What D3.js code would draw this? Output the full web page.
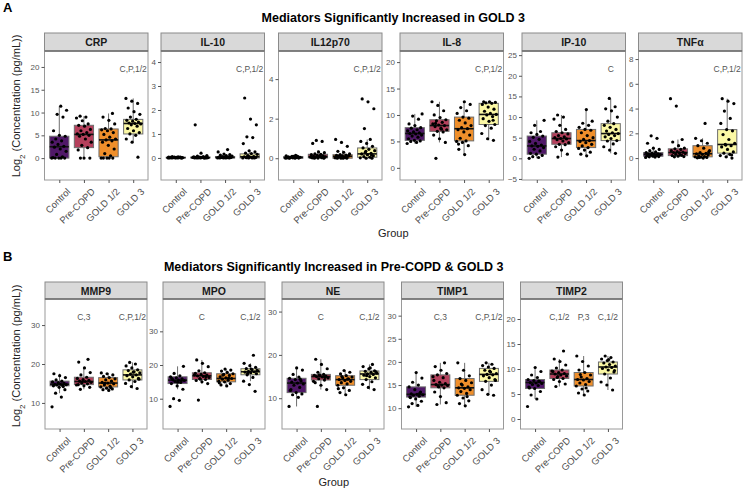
<!DOCTYPE html>
<html>
<head>
<meta charset="utf-8">
<script src="https://cdn.jsdelivr.net/npm/d3@7"></script>
<style>
  body { margin: 0; background: #fff; }
  text { font-family: "Liberation Sans", Arial, sans-serif; }
</style>
</head>
<body>
<svg width="748" height="492"></svg>
<script>
var groups = ["Control", "Pre-COPD", "GOLD 1/2", "GOLD 3"];
var groupColors = ["#501868", "#B5405C", "#EF8F2B", "#FBF8A5"];

var topNames = ["CRP", "IL-10", "IL12p70", "IL-8", "IP-10", "TNFα"];
var bottomNames = ["MMP9", "MPO", "NE", "TIMP1", "TIMP2"];

// box stats per group: [lower whisker, q1, median, q3, upper whisker]
var crpBox = [[0, 0, 2.5, 4.8, 11.4], [0, 2.3, 5.2, 7.2, 9.2], [0, 0.3, 4.0, 6.4, 9.8], [3.5, 5.3, 7.6, 8.5, 13.1]];
var il10Box = [[0, 0, 0.01, 0.03, 0.06], [0, 0, 0.01, 0.04, 0.08], [0, 0, 0.02, 0.06, 0.14], [0, 0, 0.05, 0.17, 0.35]];
var il12Box = [[0, 0, 0.04, 0.08, 0.15], [0, 0.02, 0.08, 0.2, 0.4], [0, 0, 0.1, 0.18, 0.4], [0, 0.05, 0.22, 0.52, 0.95]];
var il8Box = [[4.6, 5.2, 6.5, 7.6, 10.2], [4.8, 6.9, 8.0, 9.1, 12.5], [2.5, 5.1, 7.4, 9.6, 12.5], [5.2, 8.2, 10.1, 12.2, 12.5]];
var ip10Box = [[0, 1.0, 3.0, 5.4, 9.2], [0.3, 3.4, 4.8, 6.2, 10.5], [0.6, 2.6, 4.3, 7.0, 11.8], [1.2, 4.3, 6.0, 8.4, 14.5]];
var tnfBox = [[0.05, 0.15, 0.3, 0.45, 0.8], [0.1, 0.2, 0.45, 0.75, 1.5], [0, 0.1, 0.35, 1.0, 1.6], [0, 0.4, 1.1, 2.3, 4.8]];
var mmp9Box = [[12.5, 14.4, 14.8, 15.6, 17.5], [13.5, 14.7, 15.5, 16.6, 19], [13.2, 14.1, 15.1, 16.5, 17.7], [13.7, 15.9, 17.2, 18.5, 20.4]];
var mpoBox = [[12.8, 14.5, 15.5, 16.5, 19.6], [14.5, 15.7, 16.8, 17.7, 21.5], [13.8, 15, 16, 17.4, 18.8], [15.2, 17.1, 18, 18.9, 20.5]];
var neBox = [[8.1, 11.3, 13.5, 14.6, 17], [12, 14.2, 15, 15.5, 19], [10.8, 13.0, 14.3, 15.2, 16.4], [12, 14.3, 15.6, 16.3, 17.8]];
var timp1Box = [[10.3, 12.4, 13, 14.6, 17.7], [10.8, 14.4, 15.1, 17.2, 19.8], [10.5, 12.8, 14.4, 16.4, 19.8], [12.8, 15.8, 17.3, 18.6, 19.8]];
var timp2Box = [[4, 6.1, 7.3, 7.9, 10.3], [6.5, 8.1, 9.0, 9.8, 12], [4.8, 6.6, 7.9, 9.3, 12.6], [5.8, 9.0, 10.4, 11.4, 12.6]];

// individual subjects (log2 pg/mL)
var crpPts = [
  [0, 0, 0, 0, 0, 0.1, 0.3, 0.8, 1.5, 2, 2.4, 2.6, 3, 3.5, 3.8, 4.2, 4.8, 5, 6, 9, 9.6, 10.5, 11.4],
  [0, 0, 0, 1.8, 2.3, 2.8, 3.5, 4.2, 4.8, 5, 5.2, 5.3, 5.6, 6, 6.3, 7, 7.2, 7.5, 8.2, 8.8, 9, 9.2],
  [0, 0, 0, 0, 0, 0.5, 1, 2, 2.8, 3.5, 3.8, 4, 4.2, 4.6, 5.2, 5.6, 6, 6.2, 6.4, 6.5, 7.5, 8.3, 9, 9.8],
  [0.2, 3.5, 4.2, 5, 5.3, 5.6, 6, 6.5, 7, 7.3, 7.5, 7.6, 7.7, 7.9, 8.1, 8.3, 8.5, 9, 9.6, 10.2, 11, 12, 12.5, 13.1]];
var il10Pts = [
  [0, 0, 0, 0, 0, 0, 0.01, 0.01, 0.01, 0.02, 0.02, 0.03, 0.03, 0.04, 0.05, 0.06, 0, 0.01, 0.02, 0.02],
  [0, 0, 0, 0, 0, 0.01, 0.01, 0.02, 0.02, 0.03, 0.04, 0.05, 0.06, 0.08, 0.1, 0.2, 1.38, 0, 0.01, 0.02],
  [0, 0, 0, 0, 0, 0.01, 0.02, 0.02, 0.03, 0.04, 0.05, 0.06, 0.08, 0.1, 0.12, 0.14, 0.16, 0.25, 0.35, 0.02, 0.03],
  [0, 0, 0, 0, 0.01, 0.02, 0.03, 0.05, 0.06, 0.1, 0.15, 0.18, 0.2, 0.25, 0.3, 0.6, 0.85, 0.88, 1.38, 1.62, 2.5, 0.04, 0.08]];
var il12Pts = [
  [0, 0, 0, 0.01, 0.02, 0.03, 0.04, 0.04, 0.05, 0.06, 0.07, 0.08, 0.1, 0.12, 0.15, 0.02, 0.05, 0.09, 0.03, 0.11],
  [0, 0, 0.01, 0.02, 0.03, 0.05, 0.07, 0.08, 0.1, 0.12, 0.15, 0.18, 0.2, 0.22, 0.28, 0.32, 0.75, 0.85, 0.9, 0.05, 0.1],
  [0, 0, 0, 0, 0.02, 0.05, 0.08, 0.1, 0.12, 0.14, 0.16, 0.18, 0.22, 0.3, 0.35, 0.6, 0.8, 0.95, 0.05, 0.1, 0.13],
  [0, 0, 0.02, 0.05, 0.08, 0.12, 0.18, 0.22, 0.25, 0.3, 0.38, 0.45, 0.52, 0.6, 0.75, 0.85, 0.95, 1.5, 2.5, 2.85, 3.0, 0.15, 0.35]];
var il8Pts = [
  [4.6, 4.8, 5, 5.1, 5.2, 5.5, 5.8, 6, 6.2, 6.4, 6.5, 6.6, 6.8, 7, 7.2, 7.5, 7.6, 8, 8.3, 9.2, 9.8, 10.2],
  [1.8, 4.8, 5.5, 6.2, 6.8, 6.9, 7.2, 7.5, 7.8, 8, 8.1, 8.3, 8.6, 8.9, 9.1, 9.5, 10, 10.8, 11.8, 12.5, 7.3, 8.4],
  [2.5, 3.5, 4.2, 4.8, 5, 5.1, 5.6, 6.2, 6.8, 7.2, 7.4, 7.6, 8, 8.5, 9, 9.4, 9.6, 10.3, 10.8, 11.4, 12, 12.5, 4.5],
  [5.2, 5.5, 6.5, 7.5, 8, 8.2, 8.8, 9.3, 9.7, 10, 10.1, 10.3, 10.7, 11.1, 11.5, 12, 12.2, 12.3, 12.4, 12.5, 12.5, 9]];
var ip10Pts = [
  [0, 0.2, 0.4, 0.7, 1, 1.2, 1.8, 2.2, 2.6, 2.9, 3, 3.2, 3.6, 4.1, 4.6, 5.1, 5.4, 5.8, 6.2, 6.5, 8, 9.2],
  [0.3, 1, 2, 2.8, 3.3, 3.4, 3.8, 4.2, 4.5, 4.7, 4.8, 5, 5.2, 5.5, 5.9, 6.2, 6.5, 7, 8, 9.5, 10, 10.5],
  [0.6, 1, 1.5, 2, 2.4, 2.6, 3, 3.4, 3.8, 4.1, 4.3, 4.6, 5, 5.5, 6.2, 6.8, 7, 7.5, 8, 8.5, 9, 11.8],
  [1.2, 2, 2.8, 3.5, 4.2, 4.3, 4.8, 5.2, 5.5, 5.8, 6, 6.2, 6.6, 7, 7.5, 8, 8.4, 9, 10, 11.5, 12, 12.5, 14.5]];
var tnfPts = [
  [0.05, 0.08, 0.1, 0.12, 0.15, 0.18, 0.2, 0.25, 0.28, 0.3, 0.32, 0.35, 0.4, 0.45, 0.5, 0.6, 0.7, 0.8, 1.2, 1.6, 1.8],
  [0.1, 0.12, 0.15, 0.2, 0.22, 0.3, 0.38, 0.42, 0.45, 0.48, 0.52, 0.6, 0.7, 0.75, 0.8, 1, 1.3, 1.5, 4.2, 4.8, 0.25],
  [0, 0.02, 0.05, 0.08, 0.1, 0.12, 0.18, 0.25, 0.3, 0.35, 0.38, 0.45, 0.6, 0.8, 1, 1.2, 1.4, 1.6, 2.8, 0.05, 0.5],
  [0, 0.1, 0.2, 0.3, 0.4, 0.5, 0.7, 0.9, 1, 1.1, 1.2, 1.5, 1.9, 2.2, 2.3, 2.8, 3.2, 3.8, 4.4, 4.6, 4.8, 0.25, 1.05]];
var mmp9Pts = [
  [9, 11.5, 12.5, 13.4, 14, 14.4, 14.5, 14.6, 14.7, 14.8, 14.8, 15, 15.2, 15.4, 15.6, 15.9, 16.5, 17, 17.5, 14.2],
  [13.5, 14, 14.4, 14.7, 14.9, 15.1, 15.3, 15.5, 15.6, 15.8, 16, 16.3, 16.6, 17.2, 17.8, 19, 20.5, 21.2, 15.4, 14.6],
  [13.2, 13.4, 13.6, 13.8, 14.1, 14.3, 14.6, 14.9, 15.1, 15.3, 15.6, 15.9, 16.2, 16.5, 16.8, 17.2, 17.5, 17.7, 13.9, 15],
  [13.7, 14.2, 15, 15.5, 15.9, 16.3, 16.7, 17, 17.2, 17.4, 17.7, 18, 18.3, 18.5, 19, 19.5, 20, 20.4, 16.1, 17.9]];
var mpoPts = [
  [7.7, 9.5, 10, 12.8, 13.8, 14.5, 14.8, 15.1, 15.4, 15.5, 15.6, 15.9, 16.2, 16.5, 16.8, 17.5, 19.6, 14.9, 16, 15.3],
  [9.6, 14.5, 15, 15.4, 15.7, 16, 16.3, 16.6, 16.8, 17, 17.2, 17.5, 17.7, 18.3, 19.5, 20.5, 21.5, 16.5, 15.8, 17.1],
  [13.8, 14.1, 14.5, 15, 15.2, 15.5, 15.8, 16, 16.2, 16.5, 16.9, 17.2, 17.4, 17.8, 18.2, 18.5, 18.8, 14.7, 16.1, 17],
  [12.2, 14.2, 15.2, 16.3, 17.1, 17.4, 17.7, 17.9, 18, 18.1, 18.3, 18.6, 18.9, 19.3, 19.8, 20.5, 22.9, 17.5, 18.4, 18.8]];
var nePts = [
  [8.1, 10.2, 10.8, 11, 11.3, 11.8, 12.5, 13, 13.3, 13.5, 13.7, 14, 14.3, 14.6, 14.9, 15.5, 16.5, 17, 12, 14.4],
  [8.1, 12, 13, 13.6, 14.2, 14.5, 14.7, 14.9, 15, 15.1, 15.2, 15.3, 15.5, 16, 16.8, 17.8, 19, 14.8, 15.4, 13.9],
  [10.8, 11.3, 11.8, 12.4, 13, 13.3, 13.6, 13.9, 14.1, 14.3, 14.5, 14.7, 14.9, 15.2, 15.6, 16, 16.4, 12.2, 14.4, 15],
  [12, 12.5, 13.2, 13.8, 14.3, 14.7, 15, 15.3, 15.5, 15.6, 15.8, 16, 16.2, 16.3, 16.8, 17.3, 17.8, 15.2, 16.1, 17]];
var timp1Pts = [
  [10.3, 10.6, 11, 11.5, 12, 12.4, 12.6, 12.8, 12.9, 13, 13.1, 13.5, 14, 14.6, 15, 15.6, 16.5, 17.7, 12.3, 13.2],
  [10.8, 11.2, 12.5, 13.5, 14.4, 14.7, 14.9, 15, 15.1, 15.3, 15.6, 16, 16.6, 17.2, 17.5, 18.2, 19, 19.8, 14.6, 16.8],
  [10.5, 11, 11.6, 12.2, 12.8, 13.2, 13.6, 14, 14.3, 14.4, 14.6, 15, 15.5, 16, 16.4, 17, 18.2, 19.8, 12.5, 15.2],
  [12.8, 13, 14, 15, 15.8, 16.2, 16.6, 17, 17.2, 17.3, 17.5, 17.8, 18.2, 18.6, 18.9, 19.2, 19.5, 19.8, 16, 18]];
var timp2Pts = [
  [2.5, 4, 4.8, 5.5, 6.1, 6.4, 6.7, 6.9, 7.1, 7.2, 7.3, 7.5, 7.7, 7.9, 8.3, 8.8, 9.5, 10.3, 6.2, 7.6],
  [6.5, 7, 7.5, 7.9, 8.1, 8.3, 8.6, 8.8, 9, 9.1, 9.3, 9.5, 9.8, 10.2, 10.8, 11.5, 12, 13.6, 8.5, 9.6],
  [4.8, 5.2, 5.6, 6, 6.6, 6.9, 7.2, 7.5, 7.8, 7.9, 8.1, 8.4, 8.8, 9.3, 9.8, 10.6, 11.5, 12.6, 6.2, 8.9],
  [5.8, 6.8, 7.4, 8.2, 9, 9.4, 9.8, 10.1, 10.3, 10.4, 10.6, 10.9, 11.2, 11.4, 11.7, 12, 12.3, 12.6, 9.7, 11.9]];

// significance letters above each group
var topAnn = [
  ["", "", "", "C,P,1/2"], ["", "", "", "C,P,1/2"], ["", "", "", "C,P,1/2"],
  ["", "", "", "C,P,1/2"], ["", "", "", "C"], ["", "", "", "C,P,1/2"]];
var bottomAnn = [
  ["", "C,3", "", "C,P,1/2"], ["", "C", "", "C,1/2"], ["", "C", "", "C,1/2"],
  ["", "C,3", "", "C,P,1/2"], ["", "C,1/2", "P,3", "C,1/2"]];

// y ranges and tick labels per facet (free y scales)
var topDomains = [[-4.8, 23.5], [-0.92, 4.46], [-1.1, 5.42], [-2.3, 22.1], [-5.25, 26], [-1.77, 8.65]];
var topTicks = [[0, 5, 10, 15, 20], [0, 1, 2, 3, 4], [0, 2, 4], [0, 5, 10, 15, 20], [-5, 0, 5, 10, 15, 20, 25], [0, 2, 4, 6, 8]];
var bottomDomains = [[3.3, 36.7], [1.0, 39.6], [2.9, 32.9], [5.5, 33.6], [-2, 24]];
var bottomTicks = [[10, 20, 30], [10, 20, 30], [10, 20, 30], [10, 15, 20, 25, 30], [0, 5, 10, 15, 20]];

var svg = d3.select("svg");

var rowA = {
  label: "A", title: "Mediators Significantly Increased in GOLD 3",
  titleY: 22, labelY: 12, stripTop: 33, top: 51, bottom: 180, width: 103.5,
  lefts: [44.5, 161, 278.5, 400, 522, 638.5], groupY: 237, ytitleY: 106,
  names: topNames, boxes: [crpBox, il10Box, il12Box, il8Box, ip10Box, tnfBox],
  points: [crpPts, il10Pts, il12Pts, il8Pts, ip10Pts, tnfPts],
  ann: topAnn, domains: topDomains, ticks: topTicks
};
var rowB = {
  label: "B", title: "Mediators Significantly Increased in Pre-COPD & GOLD 3",
  titleY: 271, labelY: 261, stripTop: 282, top: 299, bottom: 429, width: 102,
  lefts: [45, 163, 282, 401.5, 520.5], groupY: 486, ytitleY: 356,
  names: bottomNames, boxes: [mmp9Box, mpoBox, neBox, timp1Box, timp2Box],
  points: [mmp9Pts, mpoPts, nePts, timp1Pts, timp2Pts],
  ann: bottomAnn, domains: bottomDomains, ticks: bottomTicks
};

function drawRow(row) {
  var first = row.lefts[0], last = row.lefts[row.lefts.length - 1] + row.width;
  var mid = (first + last) / 2;

  svg.append("text").attr("x", 3).attr("y", row.labelY)
    .style("font-size", "13px").style("font-weight", "bold").text(row.label);
  svg.append("text").attr("x", mid).attr("y", row.titleY)
    .attr("text-anchor", "middle")
    .style("font-size", "12.5px").style("font-weight", "bold").text(row.title);
  svg.append("text").attr("x", mid).attr("y", row.groupY)
    .attr("text-anchor", "middle").style("font-size", "11px").style("fill", "#222").text("Group");

  var yt = svg.append("text")
    .attr("transform", "translate(20," + row.ytitleY + ") rotate(-90)")
    .attr("text-anchor", "middle").style("font-size", "11px").style("fill", "#222");
  yt.append("tspan").text("Log");
  yt.append("tspan").attr("baseline-shift", "sub").style("font-size", "8px").text("2");
  yt.append("tspan").text(" (Concentration (pg/mL))");

  row.names.forEach(function(name, p) {
    var x0 = row.lefts[p];
    var g = svg.append("g");
    var x = d3.scalePoint().domain(groups).range([x0, x0 + row.width]).padding(0.6);
    var y = d3.scaleLinear().domain(row.domains[p]).range([row.bottom, row.top]);
    var step = x.step();
    var bw = step * 0.78;

    // strip
    g.append("rect").attr("x", x0).attr("y", row.stripTop)
      .attr("width", row.width).attr("height", row.top - row.stripTop)
      .attr("fill", "#D9D9D9").attr("stroke", "#8a8a8a").attr("stroke-width", 1);
    g.append("text").attr("x", x0 + row.width / 2).attr("y", (row.stripTop + row.top) / 2 + 4)
      .attr("text-anchor", "middle").style("font-size", "10.5px").style("font-weight", "bold")
      .style("fill", "#1a1a1a").text(name);

    // panel frame
    g.append("rect").attr("x", x0).attr("y", row.top)
      .attr("width", row.width).attr("height", row.bottom - row.top)
      .attr("fill", "none").attr("stroke", "#9a9a9a").attr("stroke-width", 1);
    g.append("line").attr("x1", x0).attr("x2", x0 + row.width)
      .attr("y1", row.top).attr("y2", row.top).attr("stroke", "#555");

    // y axis
    var ya = g.append("g").attr("transform", "translate(" + x0 + ",0)")
      .call(d3.axisLeft(y).tickValues(row.ticks[p]).tickFormat(d3.format("d")).tickSize(3).tickPadding(2));
    ya.select(".domain").remove();
    ya.selectAll("line").attr("stroke", "#555");
    ya.selectAll("text").style("font-size", "8px").style("fill", "#555")
      .style("font-family", "'Liberation Sans', Arial, sans-serif");

    // x axis
    var xa = g.append("g").attr("transform", "translate(0," + row.bottom + ")")
      .call(d3.axisBottom(x).tickSize(3).tickPadding(3));
    xa.select(".domain").remove();
    xa.selectAll("line").attr("stroke", "#555");
    xa.selectAll("text").style("font-size", "9.5px").style("fill", "#4d4d4d")
      .style("font-family", "'Liberation Sans', Arial, sans-serif")
      .attr("text-anchor", "end")
      .attr("transform", "translate(3,4) rotate(-45)")
      .attr("dy", "0.6em");

    // boxes
    row.boxes[p].forEach(function(b, k) {
      var cx = x(groups[k]);
      g.append("line").attr("x1", cx).attr("x2", cx)
        .attr("y1", y(b[0])).attr("y2", y(b[1])).attr("stroke", "#6e6e6e").attr("stroke-width", 1);
      g.append("line").attr("x1", cx).attr("x2", cx)
        .attr("y1", y(b[3])).attr("y2", y(b[4])).attr("stroke", "#6e6e6e").attr("stroke-width", 1);
      g.append("rect").attr("x", cx - bw / 2).attr("width", bw)
        .attr("y", y(b[3])).attr("height", Math.max(0.5, y(b[1]) - y(b[3])))
        .attr("fill", groupColors[k]).attr("stroke", "#6e6e6e").attr("stroke-width", 1);
      g.append("line").attr("x1", cx - bw / 2).attr("x2", cx + bw / 2)
        .attr("y1", y(b[2])).attr("y2", y(b[2])).attr("stroke", "#111").attr("stroke-width", 1.6);

      // annotation
      var a = row.ann[p][k];
      if (a) {
        g.append("text").attr("x", cx).attr("y", row.top + 21)
          .attr("text-anchor", "middle").style("font-size", "8.5px").style("fill", "#555").text(a);
      }
    });

    // jittered points
    row.points[p].forEach(function(vals, k) {
      var cx = x(groups[k]);
      g.selectAll(null).data(vals).enter().append("circle")
        .attr("cx", function(d, i) { return cx + (((i * 0.6180339 + k * 0.27) % 1) - 0.5) * step * 0.62; })
        .attr("cy", function(d) { return y(d); })
        .attr("r", 1.6).attr("fill", "#000");
    });
  });
}

drawRow(rowA);
drawRow(rowB);
</script>
</body>
</html>
